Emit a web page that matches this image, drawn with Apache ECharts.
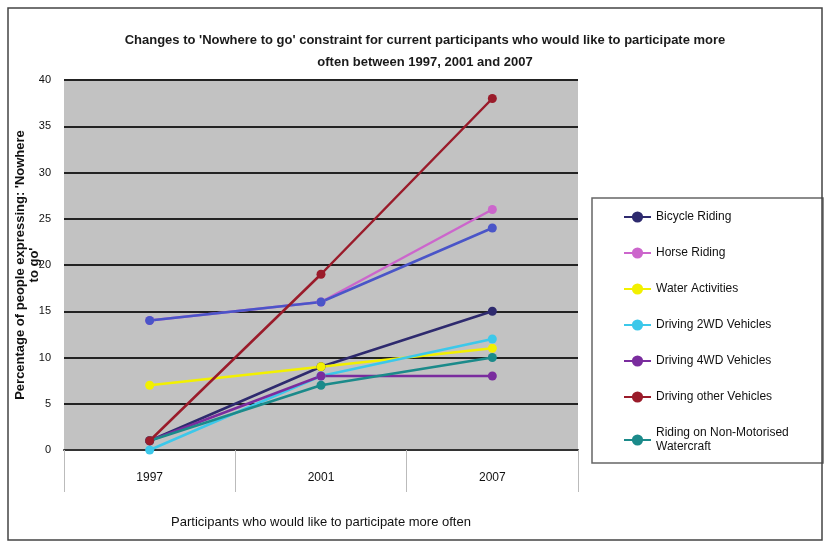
<!DOCTYPE html>
<html>
<head>
<meta charset="utf-8">
<script src="https://cdn.jsdelivr.net/npm/echarts@6/dist/echarts.min.js"></script>
<style>
  html, body { margin: 0; padding: 0; background: #fff; }
  #chart { width: 827px; height: 545px; }
</style>
</head>
<body>
<div id="chart"></div>
<script>
// years on the category axis
const years = ['1997', '2001', '2007']

// values (% of people)
const bicycleRiding = [1, 9, 15]
const horseRiding = [14, 16, 26]
const waterActivities = [7, 9, 11]
const driving2wd = [0, 8, 12]
const driving4wd = [1, 8, 8]
const drivingOther = [1, 19, 38]
const watercraft = [1, 7, 10]
const eighthSeries = [14, 16, 24] // legend entry is cut off in the source

const seriesNames = [
  'Bicycle Riding',
  'Horse Riding',
  'Water Activities',
  'Driving 2WD Vehicles',
  'Driving 4WD Vehicles',
  'Driving other Vehicles',
  'Riding on Non-Motorised Watercraft'
]

const yTitle = "Percentage of people expressing: 'Nowhere\nto go'"

const font = '"Liberation Sans Narrow", "Liberation Sans", Arial, sans-serif'

const mkLine = (name, data, color, z) => ({
  name,
  type: 'line',
  data,
  symbol: 'circle',
  symbolSize: 9,
  z: z || 2,
  lineStyle: { color, width: 2.5 },
  itemStyle: { color }
})

const chart = echarts.init(document.getElementById('chart'))

chart.setOption({
  animation: false,
  backgroundColor: '#fff',
  textStyle: { fontFamily: font },
  title: {
    text: "Changes to 'Nowhere to go' constraint for current participants who would like to participate more\noften between 1997, 2001 and 2007",
    left: 420,
    textAlign: 'center',
    top: 24,
    textStyle: { fontSize: 13, fontWeight: 'bold', color: '#1a1a1a', lineHeight: 22, fontFamily: font }
  },
  graphic: [
    // outer frame
    { type: 'rect', shape: { x: 8, y: 8, width: 814, height: 532 }, style: { fill: 'none', stroke: '#444', lineWidth: 1.5 }, silent: true },
    // legend box
    { type: 'rect', shape: { x: 592, y: 198, width: 231, height: 265 }, style: { fill: '#fff', stroke: '#666', lineWidth: 1.5 }, silent: true, z: -1 },
    // y axis title (placed by hand, the axis name kept getting pushed to the edge)
    {
      type: 'text',
      x: 27,
      y: 265,
      rotation: Math.PI / 2,
      style: {
        text: yTitle,
        fontSize: 13,
        fontWeight: 'bold',
        fill: '#111',
        fontFamily: font,
        lineHeight: 14,
        align: 'center',
        verticalAlign: 'middle'
      },
      silent: true
    }
  ],
  legend: {
    data: seriesNames,
    orient: 'vertical',
    left: 618,
    top: 205,
    itemGap: 22,
    itemWidth: 27,
    itemHeight: 14,
    textStyle: { fontSize: 12, color: '#111', fontFamily: font, lineHeight: 14 },
    formatter: name => name === 'Riding on Non-Motorised Watercraft' ? 'Riding on Non-Motorised\nWatercraft' : name
  },
  grid: {
    left: 64,
    right: 249,
    top: 80,
    bottom: 95,
    outerBoundsMode: 'none',
    show: true,
    backgroundColor: '#c2c2c2',
    borderWidth: 0
  },
  xAxis: {
    type: 'category',
    data: years,
    boundaryGap: true,
    name: 'Participants who would like to participate more often',
    nameLocation: 'middle',
    nameGap: 66,
    nameTextStyle: { fontSize: 13, color: '#111', fontFamily: font },
    axisLine: { show: true, lineStyle: { color: '#333', width: 2 } },
    axisTick: { show: true, interval: 0, length: 42, lineStyle: { color: '#bbb', width: 1 } },
    axisLabel: { fontSize: 12, color: '#111', margin: 22, fontFamily: font }
  },
  yAxis: {
    type: 'value',
    min: 0,
    max: 40,
    interval: 5,
    axisLine: { show: false },
    axisTick: { show: false },
    axisLabel: { fontSize: 11, color: '#111', margin: 13, fontFamily: font },
    splitLine: { show: true, lineStyle: { color: '#222', width: 2 } }
  },
  series: [
    mkLine('Driving other Vehicles', drivingOther, '#9a1b2a', 3),
    mkLine('Horse Riding', horseRiding, '#cc66cc'),
    mkLine('', eighthSeries, '#4a55c8'),
    mkLine('Bicycle Riding', bicycleRiding, '#2e2a6e'),
    mkLine('Water Activities', waterActivities, '#f2f000'),
    mkLine('Driving 2WD Vehicles', driving2wd, '#3cc8ea'),
    mkLine('Driving 4WD Vehicles', driving4wd, '#7a2c9e'),
    mkLine('Riding on Non-Motorised Watercraft', watercraft, '#1b8a8a')
  ]
})
</script>
</body>
</html>
